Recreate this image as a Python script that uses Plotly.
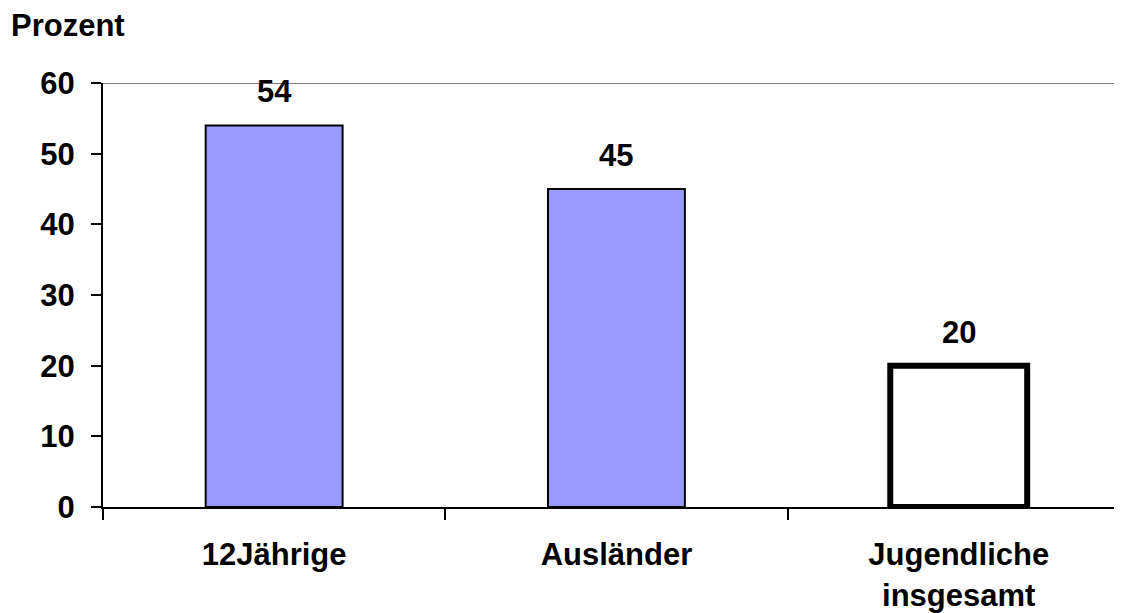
import plotly.graph_objects as go

categories = ["12Jährige", "Ausländer", "Jugendliche<br>insgesamt"]
values = [54, 45, 20]
fill_colors = ["#9999FF", "#9999FF", "#FFFFFF"]
outline_widths = [2, 2, 6]
y_ticks = [0, 10, 20, 30, 40, 50, 60]
y_label = "Prozent"

FONT = dict(family="Liberation Sans, Arial, sans-serif", size=31, color="black", weight="bold")

fig = go.Figure()
fig.add_trace(go.Bar(
    x=categories, y=values, width=0.4,
    marker=dict(color=fill_colors, line=dict(color="black", width=outline_widths)),
    hoverinfo="skip",
))

for c, v in zip(categories, values):
    fig.add_annotation(x=c, y=v, text=str(v), showarrow=False, yanchor="bottom",
                       yshift=14, font=FONT)

fig.add_annotation(xref="paper", yref="paper", x=-0.092, y=1.136, xanchor="left",
                   yanchor="middle", text=y_label, showarrow=False, font=FONT)

fig.add_shape(type="line", xref="paper", yref="y", x0=0, x1=1, y0=60, y1=60,
              line=dict(color="#808080", width=2), layer="below")

fig.update_layout(
    width=1114, height=605,
    margin=dict(l=95, r=0, t=75, b=102),
    paper_bgcolor="white", plot_bgcolor="white",
    showlegend=False,
    font=FONT,
    xaxis=dict(
        range=[-0.5, 2.477], showgrid=False, zeroline=False,
        showline=True, linecolor="black", linewidth=2,
        ticks="outside", tickson="boundaries", ticklen=11, tickwidth=2, tickcolor="black",
        tickfont=FONT, ticklabelstandoff=19,
    ),
    yaxis=dict(
        range=[0, 60], tickvals=y_ticks, showgrid=False, zeroline=False,
        showline=True, linecolor="black", linewidth=2,
        ticks="outside", ticklen=10, tickwidth=2, tickcolor="black",
        tickfont=FONT, ticklabelstandoff=10,
    ),
)

fig.write_html("out.html")
